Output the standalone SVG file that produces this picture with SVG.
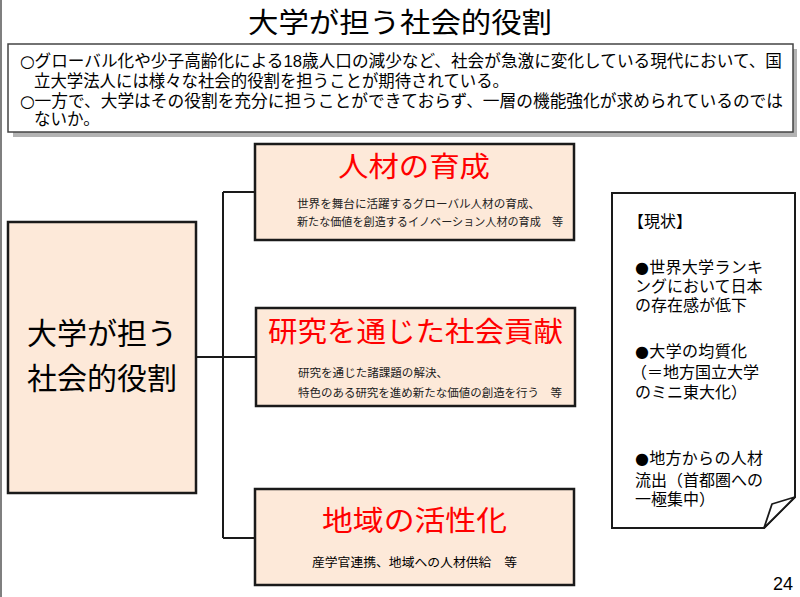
<svg xmlns="http://www.w3.org/2000/svg" width="800" height="597" viewBox="0 0 800 597">
<style>
text{font-family:"Liberation Sans","Noto Sans CJK JP","Noto Sans CJK SC",sans-serif;fill:#000}
.sym{font-family:"DejaVu Sans",sans-serif}
.box{fill:#FDE9D9;stroke:#1a1a1a;stroke-width:2.5}
.conn{fill:none;stroke:#1a1a1a;stroke-width:2}
.head{fill:#FF0000;font-size:28px}
.sub{font-size:11.5px;fill:#222}
.intro{font-size:16.5px}
.note{font-size:16px}
</style>
<rect width="800" height="597" fill="#ffffff"/>
<line x1="1" y1="0" x2="1" y2="597" stroke="#555" stroke-width="1.5"/>
<g id="title">
<text x="248" y="33" font-size="28" textLength="304" lengthAdjust="spacingAndGlyphs">大学が担う社会的役割</text>
</g>
<g id="intro">
<rect x="13" y="49" width="784" height="88" fill="#b3b3b3"/>
<rect x="8" y="44" width="785" height="88" fill="#ffffff" stroke="#444" stroke-width="1.5"/>
<text class="intro" x="20" y="67" textLength="762" lengthAdjust="spacingAndGlyphs"><tspan class="sym">○</tspan>グローバル化や少子高齢化による18歳人口の減少など、社会が急激に変化している現代において、国</text>
<text class="intro" x="34" y="87" textLength="475" lengthAdjust="spacingAndGlyphs">立大学法人には様々な社会的役割を担うことが期待されている。</text>
<text class="intro" x="20" y="107" textLength="763" lengthAdjust="spacingAndGlyphs"><tspan class="sym">○</tspan>一方で、大学はその役割を充分に担うことができておらず、一層の機能強化が求められているのでは</text>
<text class="intro" x="34" y="125">ないか。</text>
</g>
<g id="connectors">
<path class="conn" d="M196,357 H223 M223,192 V538 M223,192 H255 M223,357 H256 M223,538 H255"/>
</g>
<g id="main">
<rect class="box" x="8" y="222" width="188" height="271"/>
<text x="102" y="344" font-size="30" text-anchor="middle">大学が担う</text>
<text x="102" y="389" font-size="30" text-anchor="middle">社会的役割</text>
</g>
<g id="jinzai">
<rect class="box" x="255" y="144" width="319" height="96"/>
<text class="head" x="338" y="177" textLength="152" lengthAdjust="spacingAndGlyphs">人材の育成</text>
<text class="sub" x="297" y="208" textLength="243" lengthAdjust="spacingAndGlyphs">世界を舞台に活躍するグローバル人材の育成、</text>
<text class="sub" x="297" y="226" textLength="266" lengthAdjust="spacingAndGlyphs">新たな価値を創造するイノベーション人材の育成　等</text>
</g>
<g id="kenkyu">
<rect class="box" x="256" y="308" width="319" height="98"/>
<text class="head" x="268" y="342" textLength="295" lengthAdjust="spacingAndGlyphs">研究を通じた社会貢献</text>
<text class="sub" x="298" y="377" textLength="150" lengthAdjust="spacingAndGlyphs">研究を通じた諸課題の解決、</text>
<text class="sub" x="298" y="397" textLength="264" lengthAdjust="spacingAndGlyphs">特色のある研究を進め新たな価値の創造を行う　等</text>
</g>
<g id="chiiki">
<rect class="box" x="255" y="489" width="319" height="96"/>
<text class="head" x="322" y="531" textLength="185" lengthAdjust="spacingAndGlyphs">地域の活性化</text>
<text x="312" y="567" font-size="12.5" fill="#222" textLength="205" lengthAdjust="spacingAndGlyphs">産学官連携、地域への人材供給　等</text>
</g>
<g id="genjo">
<path d="M612,193 H795 V497 L764,528 H612 Z" fill="#ffffff" stroke="#1a1a1a" stroke-width="2"/>
<path d="M795,497 L772,504 L764,528 Z" fill="#ffffff" stroke="#1a1a1a" stroke-width="1.8" stroke-linejoin="round"/>
<text class="note" x="628" y="227">【現状】</text>
<text class="note" x="635" y="273" textLength="128" lengthAdjust="spacing"><tspan class="sym">●</tspan>世界大学ランキ</text>
<text class="note" x="635" y="292">ングにおいて日本</text>
<text class="note" x="635" y="311">の存在感が低下</text>
<text class="note" x="635" y="357" textLength="112" lengthAdjust="spacing"><tspan class="sym">●</tspan>大学の均質化</text>
<text class="note" x="631" y="378">（＝地方国立大学</text>
<text class="note" x="635" y="398">のミニ東大化）</text>
<text class="note" x="635" y="464" textLength="128" lengthAdjust="spacing"><tspan class="sym">●</tspan>地方からの人材</text>
<text class="note" x="635" y="486">流出（首都圏への</text>
<text class="note" x="635" y="505">一極集中）</text>
</g>
<text x="793" y="590" font-family="Liberation Sans, Arial, sans-serif" font-size="18" text-anchor="end">24</text>
</svg>
